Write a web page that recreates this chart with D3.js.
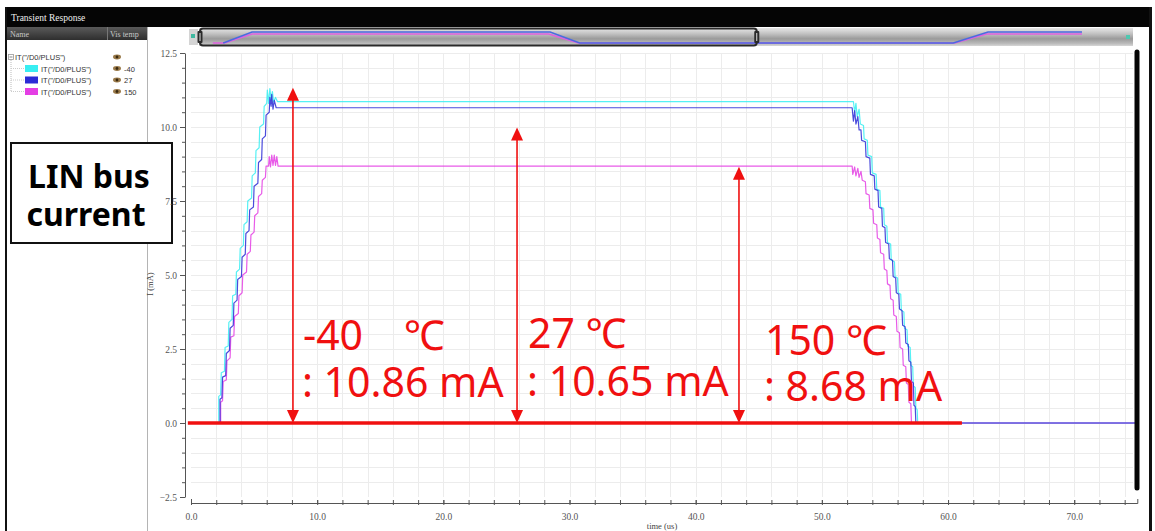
<!DOCTYPE html>
<html>
<head>
<meta charset="utf-8">
<script src="https://cdn.jsdelivr.net/npm/d3@7/dist/d3.min.js"></script>
<style>
  html, body { margin: 0; padding: 0; background: #fff; }
  svg { display: block; }
</style>
</head>
<body>
<svg id="chart" width="1155" height="531"></svg>
<script>
// ---------------- data ----------------
const signalName = 'IT("/D0/PLUS")';
const temps = ["-40", "27", "150"];
const plateauCurrents = [10.86, 10.65, 8.68];      // mA, settled LIN bus current
const xTickLabels = [0, 10, 20, 30, 40, 50, 60, 70];   // us
const yTickLabels = [-2.5, 0, 2.5, 5, 7.5, 10, 12.5];   // mA

// transient waveforms [time (us), current (mA)]
const waveM40 = [
  [0,0],[2.2,0],[2.2,0.9],[2.35,0.95],[2.4,1.7],[2.65,1.75],[2.7,2.55],[2.95,2.6],[3.0,3.4],[3.25,3.5],
  [3.3,4.3],[3.55,4.35],[3.6,5.1],[3.85,5.2],[3.9,5.9],[4.15,6.0],[4.2,6.7],[4.45,6.8],[4.5,7.5],[4.8,7.6],
  [4.85,8.35],[5.1,8.45],[5.15,9.2],[5.4,9.3],[5.45,10.0],[5.75,10.1],[5.8,10.7],[6.0,10.8],[6.05,11.25],
  [6.15,10.8],[6.25,11.3],[6.35,10.9],[6.45,11.2],[6.55,10.85],[6.7,11.0],[6.85,10.86],
  [52.5,10.86],[52.6,10.5],[52.7,10.8],[52.8,10.35],[52.95,10.6],[53.05,10.1],[53.3,10.05],[53.35,9.6],
  [53.6,9.55],[53.65,9.05],[53.95,9.0],[54.0,8.45],[54.3,8.4],[54.35,7.9],[54.6,7.85],[54.65,7.3],
  [54.9,7.25],[54.95,6.7],[55.15,6.65],[55.2,6.1],[55.45,6.05],[55.5,5.5],[55.75,5.45],[55.8,4.95],
  [56.0,4.9],[56.05,4.4],[56.25,4.35],[56.3,3.8],[56.5,3.75],[56.55,3.2],[56.75,3.15],[56.8,2.6],
  [57.0,2.55],[57.05,1.95],[57.2,1.9],[57.25,1.25],[57.4,1.2],[57.45,0.5],[57.55,0.45],[57.6,0],[75,0]
];
const wave27 = [
  [0,0],[2.3,0],[2.3,0.8],[2.45,0.85],[2.5,1.55],[2.75,1.6],[2.8,2.35],[3.05,2.45],[3.1,3.2],[3.35,3.3],
  [3.4,4.05],[3.65,4.15],[3.7,4.85],[4.0,4.95],[4.05,5.6],[4.3,5.7],[4.35,6.4],[4.6,6.5],[4.65,7.2],
  [4.95,7.3],[5.0,8.0],[5.3,8.1],[5.35,8.8],[5.6,8.9],[5.65,9.6],[5.9,9.7],[5.95,10.4],[6.2,10.5],
  [6.25,11.0],[6.35,10.7],[6.4,11.1],[6.5,10.6],[6.6,10.9],[6.75,10.65],
  [52.3,10.65],[52.4,10.65],[52.5,10.2],[52.6,10.55],[52.7,10.1],[52.85,10.35],[52.95,9.9],[53.1,9.9],
  [53.15,9.55],[53.45,9.5],[53.5,9.0],[53.8,8.95],[53.85,8.4],[54.15,8.35],[54.2,7.9],[54.45,7.85],
  [54.5,7.3],[54.75,7.25],[54.8,6.65],[55.0,6.6],[55.05,6.1],[55.3,6.05],[55.35,5.55],[55.6,5.5],
  [55.65,4.95],[55.85,4.9],[55.9,4.4],[56.1,4.35],[56.15,3.85],[56.35,3.8],[56.4,3.3],[56.6,3.25],
  [56.65,2.7],[56.85,2.65],[56.9,2.1],[57.05,2.05],[57.1,1.4],[57.25,1.35],[57.3,0.6],[57.4,0.55],
  [57.45,0],[75,0]
];
const wave150 = [
  [0,0],[2.35,0],[2.35,0.7],[2.5,0.75],[2.55,1.4],[2.8,1.45],[2.85,2.1],[3.1,2.2],[3.15,2.9],[3.4,2.95],
  [3.45,3.6],[3.75,3.7],[3.8,4.3],[4.05,4.4],[4.1,5.0],[4.4,5.1],[4.45,5.7],[4.7,5.8],[4.75,6.35],
  [5.0,6.45],[5.05,7.0],[5.3,7.1],[5.35,7.65],[5.6,7.75],[5.65,8.2],[5.9,8.3],[5.95,8.68],[6.15,8.68],
  [6.2,9.0],[6.3,8.65],[6.4,9.05],[6.5,8.7],[6.6,9.05],[6.7,8.7],[6.8,9.0],[6.9,8.68],
  [52.2,8.68],[52.4,8.68],[52.45,8.4],[52.6,8.65],[52.7,8.35],[52.85,8.6],[52.95,8.3],[53.1,8.5],
  [53.2,8.2],[53.45,8.15],[53.5,7.75],[53.75,7.7],[53.8,7.25],[54.05,7.2],[54.1,6.75],[54.35,6.7],
  [54.4,6.25],[54.6,6.2],[54.65,5.75],[54.9,5.7],[54.95,5.2],[55.15,5.15],[55.2,4.7],[55.4,4.65],
  [55.45,4.2],[55.65,4.15],[55.7,3.65],[55.9,3.6],[55.95,3.1],[56.15,3.05],[56.2,2.55],[56.4,2.5],
  [56.45,1.95],[56.65,1.9],[56.7,1.35],[56.85,1.3],[56.9,0.7],[57.05,0.65],[57.1,0],[75,0]
];

// marker arrows: time position (us) and top end (mA)
const arrowTimes = [8.08, 25.84, 43.43];
const arrowTops = [11.33, 9.98, 8.66];
const baselineSpan = [-0.25, 61.1];   // us

// full-run overview traces [time (us), current (mA)]
const overviewHot = [[1.6,0],[3.2,0],[6.9,8.7],[47.0,8.7],[51.0,0],[101.9,0],[106.2,8.7],[119.1,8.7]];
const overviewRoom = [[3.0,0],[6.9,10.7],[47.2,10.7],[51.2,0],[101.7,0],[106.4,10.7],[119.1,10.7]];

// ---------------- layout / style ----------------
const colors = ["#38eef2", "#2b2bd6", "#e43ee4"];
const W = 1155, H = 531;
const svg = d3.select("#chart");
const defs = svg.append("defs");

const x = d3.scaleLinear().domain([0, 75]).range([191, 1137.3]);
const y = d3.scaleLinear().domain([-2.5, 12.5]).range([497, 53]);
const axisX = 185, axisY = 503;

// gradients
const barGrad = defs.append("linearGradient").attr("id", "barGrad").attr("x1", 0).attr("y1", 0).attr("x2", 0).attr("y2", 1);
[["0%", "#e6e6e6"], ["30%", "#c4c4c4"], ["60%", "#9a9a9a"], ["85%", "#b9b9b9"], ["100%", "#d6d6d6"]]
  .forEach(s => barGrad.append("stop").attr("offset", s[0]).attr("stop-color", s[1]));
const headGrad = defs.append("linearGradient").attr("id", "headGrad").attr("x1", 0).attr("y1", 0).attr("x2", 0).attr("y2", 1);
[["0%", "#5a5a5a"], ["100%", "#2e2e2e"]]
  .forEach(s => headGrad.append("stop").attr("offset", s[0]).attr("stop-color", s[1]));

// ---------------- window chrome ----------------
svg.append("rect").attr("x", 0).attr("y", 0).attr("width", W).attr("height", H).attr("fill", "#fff");
svg.append("rect").attr("x", 5).attr("y", 7).attr("width", 1147).attr("height", 20).attr("fill", "#050505");
svg.append("text").attr("x", 11).attr("y", 21)
  .attr("font-family", "Liberation Serif, serif").attr("font-size", 9.5).attr("fill", "#f0f0f0")
  .text("Transient Response");

// left panel header
svg.append("rect").attr("x", 7).attr("y", 27).attr("width", 140).attr("height", 13).attr("fill", "url(#headGrad)");
svg.append("line").attr("x1", 107.5).attr("x2", 107.5).attr("y1", 27).attr("y2", 40).attr("stroke", "#777");
svg.append("text").attr("x", 10).attr("y", 36.5).attr("font-family", "Liberation Serif, serif")
  .attr("font-size", 8).attr("fill", "#c8c8c8").text("Name");
svg.append("text").attr("x", 110).attr("y", 36.5).attr("font-family", "Liberation Serif, serif")
  .attr("font-size", 8).attr("fill", "#c8c8c8").text("Vis temp");

// panel divider
svg.append("line").attr("x1", 147.5).attr("x2", 147.5).attr("y1", 27).attr("y2", H).attr("stroke", "#b4b4b4");

// frame edges
svg.append("line").attr("x1", 6).attr("x2", 6).attr("y1", 7).attr("y2", H).attr("stroke", "#111").attr("stroke-width", 2);
svg.append("line").attr("x1", 1150.5).attr("x2", 1150.5).attr("y1", 7).attr("y2", H).attr("stroke", "#111").attr("stroke-width", 3);

// ---------------- legend tree ----------------
const legend = svg.append("g").attr("font-family", "Liberation Sans, Arial, sans-serif").attr("font-size", 7.5).attr("fill", "#333");
legend.append("rect").attr("x", 8.5).attr("y", 54.5).attr("width", 5).attr("height", 5).attr("fill", "#fff").attr("stroke", "#999").attr("stroke-width", 0.8);
legend.append("line").attr("x1", 9.5).attr("x2", 12.5).attr("y1", 57).attr("y2", 57).attr("stroke", "#666").attr("stroke-width", 0.8);
legend.append("text").attr("x", 15).attr("y", 60).text(signalName);
legend.append("line").attr("x1", 11).attr("x2", 11).attr("y1", 60).attr("y2", 91).attr("stroke", "#bbb").attr("stroke-dasharray", "1,1");

function eye(g, cx, cy) {
  g.append("ellipse").attr("cx", cx).attr("cy", cy).attr("rx", 4).attr("ry", 2.4).attr("fill", "#9a7a4a");
  g.append("circle").attr("cx", cx).attr("cy", cy).attr("r", 1.4).attr("fill", "#3a2a10");
}
eye(legend, 117, 57);
temps.forEach((t, i) => {
  const cy = 68.5 + i * 11.5;
  legend.append("line").attr("x1", 11).attr("x2", 25).attr("y1", cy).attr("y2", cy).attr("stroke", "#ccc").attr("stroke-dasharray", "1,1");
  legend.append("rect").attr("x", 25).attr("y", cy - 3.5).attr("width", 13).attr("height", 7).attr("fill", colors[i]);
  legend.append("text").attr("x", 41).attr("y", cy + 3).text(signalName);
  eye(legend, 117, cy);
  legend.append("text").attr("x", 124).attr("y", cy + 3).text(t);
});

// ---------------- overview strip ----------------
const ov = svg.append("g");
const ox = d3.scaleLinear().domain([0, 126]).range([201, 1133]);
const oy = d3.scaleLinear().domain([0, 10.7]).range([43, 32]);
ov.append("rect").attr("x", 189).attr("y", 29).attr("width", 9).attr("height", 16).attr("fill", "#d4d4d4");
ov.append("rect").attr("x", 191).attr("y", 34).attr("width", 4).attr("height", 4).attr("fill", "#3fb8a0");
ov.append("rect").attr("x", 199).attr("y", 28).attr("width", 934).attr("height", 18).attr("fill", "url(#barGrad)");
const ovLine = d3.line().x(d => ox(d[0])).y(d => oy(d[1]));
ov.append("path").attr("d", ovLine(overviewHot)).attr("fill", "none").attr("stroke", "#e060e0").attr("stroke-width", 1.4);
ov.append("path").attr("d", ovLine(overviewRoom)).attr("fill", "none").attr("stroke", "#4a6ae0").attr("stroke-width", 1.4);
ov.append("rect").attr("x", ox(0) - 1).attr("y", 28.5).attr("width", ox(75) - ox(0) + 2).attr("height", 17)
  .attr("rx", 3).attr("fill", "none").attr("stroke", "#2a2a2a").attr("stroke-width", 2);
[ox(0) - 1, ox(75) + 1].forEach(gx => {
  ov.append("rect").attr("x", gx - 2.5).attr("y", 31).attr("width", 5).attr("height", 12).attr("rx", 1).attr("fill", "#2a2a2a");
  ov.append("line").attr("x1", gx).attr("x2", gx).attr("y1", 33).attr("y2", 41).attr("stroke", "#ddd").attr("stroke-width", 1);
});
ov.append("rect").attr("x", 1126).attr("y", 35).attr("width", 4).attr("height", 4).attr("fill", "#4fc8b0");

// ---------------- grid ----------------
const grid = svg.append("g").attr("stroke", "#ececec").attr("stroke-width", 1);
d3.range(2, 76, 2).forEach(t => {
  grid.append("line").attr("x1", Math.round(x(t)) + 0.5).attr("x2", Math.round(x(t)) + 0.5)
    .attr("y1", y(12.5)).attr("y2", y(-2.5));
});
d3.range(-2, 12.6, 0.5).forEach(v => {
  grid.append("line").attr("x1", x(0)).attr("x2", 1133)
    .attr("y1", Math.round(y(v)) + 0.5).attr("y2", Math.round(y(v)) + 0.5);
});

// ---------------- "LIN bus current" box ----------------
const box = svg.append("g");
box.append("rect").attr("x", 11).attr("y", 143).attr("width", 161).attr("height", 100)
  .attr("fill", "#fff").attr("stroke", "#111").attr("stroke-width", 2);
box.append("text").attr("x", 89).attr("y", 188).attr("text-anchor", "middle")
  .attr("font-family", "Noto Sans, Open Sans, sans-serif").attr("font-weight", "bold")
  .attr("font-size", 32).attr("fill", "#000").text("LIN bus");
box.append("text").attr("x", 86).attr("y", 226).attr("text-anchor", "middle")
  .attr("font-family", "Noto Sans, Open Sans, sans-serif").attr("font-weight", "bold")
  .attr("font-size", 32).attr("fill", "#000").text("current");

// ---------------- axes ----------------
const tickFont = "Liberation Serif, serif";
const yAxis = d3.axisLeft(y).tickValues(yTickLabels).tickSize(5).tickSizeOuter(0).tickPadding(3)
  .tickFormat(d3.format(".1f"));
const gy = svg.append("g").attr("transform", `translate(${axisX},0)`).call(yAxis);
gy.selectAll("text").attr("font-family", tickFont).attr("font-size", 9.5).attr("fill", "#555");
gy.selectAll("line, path").attr("stroke", "#555");
const gyMinor = svg.append("g").attr("transform", `translate(${axisX},0)`)
  .call(d3.axisLeft(y).tickValues(d3.range(-2.5, 12.51, 0.5)).tickSize(3).tickFormat(""));
gyMinor.selectAll("line").attr("stroke", "#555");
gyMinor.select(".domain").remove();
svg.append("text").attr("transform", `translate(153,284) rotate(-90)`).attr("text-anchor", "middle")
  .attr("font-family", tickFont).attr("font-size", 8.5).attr("fill", "#444").text("I (mA)");

const xAxis = d3.axisBottom(x).tickValues(xTickLabels).tickSize(-3).tickSizeOuter(-4).tickPadding(10)
  .tickFormat(d3.format(".1f"));
const gx = svg.append("g").attr("transform", `translate(0,${axisY})`).call(xAxis);
gx.selectAll("text").attr("font-family", tickFont).attr("font-size", 9.5).attr("fill", "#555");
gx.selectAll("line, path").attr("stroke", "#555");
const gxMinor = svg.append("g").attr("transform", `translate(0,${axisY})`)
  .call(d3.axisBottom(x).tickValues(d3.range(0, 75, 2)).tickSize(2).tickFormat(""));
gxMinor.selectAll("line").attr("stroke", "#555");
gxMinor.select(".domain").remove();
const gxMinorUp = svg.append("g").attr("transform", `translate(0,${axisY})`)
  .call(d3.axisBottom(x).tickValues(d3.range(0, 75, 2)).tickSize(-3).tickFormat(""));
gxMinorUp.selectAll("line").attr("stroke", "#555");
gxMinorUp.select(".domain").remove();
svg.append("text").attr("x", 662).attr("y", 529).attr("text-anchor", "middle")
  .attr("font-family", tickFont).attr("font-size", 8.5).attr("fill", "#444").text("time (us)");

// ---------------- waveforms ----------------
const line = d3.line().x(d => x(d[0])).y(d => y(d[1]));
[waveM40, wave150, wave27].forEach((w, k) => {
  const ci = [0, 2, 1][k];
  svg.append("path").attr("d", line(w)).attr("fill", "none")
    .attr("stroke", colors[ci]).attr("stroke-width", 1.2).attr("stroke-opacity", 0.85)
    .attr("stroke-linejoin", "round");
});

// ---------------- annotations ----------------
const red = "#f01010";
svg.append("line").attr("x1", x(baselineSpan[0])).attr("x2", x(baselineSpan[1]))
  .attr("y1", y(0)).attr("y2", y(0)).attr("stroke", red).attr("stroke-width", 3.5);

const headW = 12, headH = 13;
arrowTimes.forEach((t, i) => {
  const ax = x(t), yt = y(arrowTops[i]), yb = y(0);
  svg.append("line").attr("x1", ax).attr("x2", ax).attr("y1", yt + headH - 1).attr("y2", yb - headH + 1)
    .attr("stroke", red).attr("stroke-width", 1.6);
  svg.append("path").attr("d", `M${ax},${yt} L${ax - headW / 2},${yt + headH} L${ax + headW / 2},${yt + headH} Z`).attr("fill", red);
  svg.append("path").attr("d", `M${ax},${yb} L${ax - headW / 2},${yb - headH} L${ax + headW / 2},${yb - headH} Z`).attr("fill", red);
});

// temperature / current labels next to each arrow
const labelDx = [10, 11, 26];
const labelBase1 = [350, 348, 355];
const labelBase2 = [397, 396, 401];
const unitGap = [30, 0, 0];   // extra room before the degree sign
arrowTimes.forEach((t, i) => {
  const lx = x(t) + labelDx[i];
  const t1 = svg.append("text").attr("x", lx).attr("y", labelBase1[i])
    .attr("font-family", "Noto Sans, Open Sans, sans-serif").attr("font-size", 41).attr("fill", red);
  t1.append("tspan").text(temps[i] + " ");
  t1.append("tspan").attr("dx", unitGap[i]).text("\u2103");
  svg.append("text").attr("x", lx - 1).attr("y", labelBase2[i])
    .attr("font-family", "Noto Sans, Open Sans, sans-serif").attr("font-size", 41).attr("fill", red)
    .text(": " + plateauCurrents[i].toFixed(2) + " mA");
});

// right-hand scroll bar
svg.append("line").attr("x1", 1137).attr("x2", 1137).attr("y1", 52).attr("y2", 488)
  .attr("stroke", "#050505").attr("stroke-width", 5).attr("stroke-linecap", "round");
</script>
</body>
</html>
